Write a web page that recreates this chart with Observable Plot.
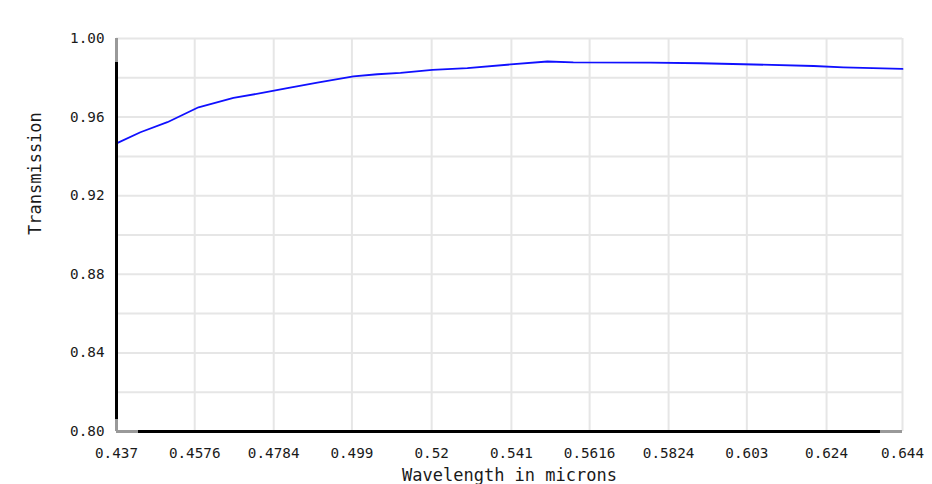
<!DOCTYPE html>
<html>
<head>
<meta charset="utf-8">
<script src="https://cdn.jsdelivr.net/npm/d3@7"></script>
<script src="https://cdn.jsdelivr.net/npm/@observablehq/plot@0.6"></script>
<style>
  html, body { margin: 0; padding: 0; background: #fff; }
  #chart svg { display: block; }
</style>
</head>
<body>
<div id="chart"></div>
<script>
const wavelength = [0.437, 0.4433, 0.4504, 0.4586, 0.4678, 0.4757, 0.4820, 0.4899, 0.4994, 0.5057, 0.5118, 0.5202, 0.5294, 0.5408, 0.5505, 0.5573, 0.5776, 0.5908, 0.6021, 0.6206, 0.6284, 0.644];
const transmission = [0.9466, 0.9523, 0.9574, 0.9650, 0.9698, 0.9724, 0.9747, 0.9775, 0.9807, 0.9818, 0.9825, 0.9840, 0.9849, 0.9868, 0.9883, 0.9878, 0.9877, 0.9874, 0.9869, 0.9860, 0.9853, 0.9845];
const xTicks = [0.437, 0.4576, 0.4784, 0.499, 0.52, 0.541, 0.5616, 0.5824, 0.603, 0.624, 0.644];
const xTickLabels = ["0.437", "0.4576", "0.4784", "0.499", "0.52", "0.541", "0.5616", "0.5824", "0.603", "0.624", "0.644"];
const yTicks = [0.80, 0.84, 0.88, 0.92, 0.96, 1.00];
const yGrid = [0.80, 0.82, 0.84, 0.86, 0.88, 0.90, 0.92, 0.94, 0.96, 0.98, 1.00];
const xLabel = "Wavelength in microns";
const yLabel = "Transmission";

const data = wavelength.map((w, i) => ({w, t: transmission[i]}));
const xDom = [0.437, 0.644];
const yDom = [0.80, 1.00];
const xInset = (xDom[1] - xDom[0]) * 0.028;
const yInset = (yDom[1] - yDom[0]) * 0.061;

const chart = Plot.plot({
  width: 932,
  height: 484,
  marginLeft: 116,
  marginRight: 30,
  marginTop: 38,
  marginBottom: 53,
  style: { fontFamily: "'DejaVu Sans Mono', monospace", fontSize: "14px", color: "#1a1a1a", background: "#fff" },
  x: { domain: xDom },
  y: { domain: yDom },
  marks: [
    Plot.gridX(xTicks, { stroke: "#e6e6e6", strokeOpacity: 1, strokeWidth: 2 }),
    Plot.gridY(yGrid, { stroke: "#e6e6e6", strokeOpacity: 1, strokeWidth: 2 }),
    Plot.line(data, { x: "w", y: "t", stroke: "#1010ff", strokeWidth: 1.8 }),
    // axis lines
    Plot.ruleX([xDom[0]], { y1: yDom[0], y2: yDom[1], stroke: "#999", strokeWidth: 3 }),
    Plot.ruleX([xDom[0]], { y1: yDom[0] + yInset * 0.5, y2: yDom[1] - yInset, stroke: "#000", strokeWidth: 3 }),
    Plot.ruleY([yDom[0]], { x1: xDom[0], x2: xDom[1], stroke: "#999", strokeWidth: 3 }),
    Plot.ruleY([yDom[0]], { x1: xDom[0] + xInset, x2: xDom[1] - xInset, stroke: "#000", strokeWidth: 3 }),
    Plot.axisX(xTicks, { tickSize: 0, tickPadding: 16, tickFormat: (d, i) => xTickLabels[i], label: null, fontSize: 14.3 }),
    Plot.axisY(yTicks, { tickSize: 0, tickPadding: 12, tickFormat: d => d.toFixed(2), label: null, fontSize: 14.3 }),
    Plot.text([xLabel], { frameAnchor: "bottom", dy: 44, lineAnchor: "middle", fontSize: 17, fill: "#1a1a1a" }),
    Plot.text([yLabel], { frameAnchor: "left", dx: -81, rotate: -90, lineAnchor: "middle", fontSize: 17, fill: "#1a1a1a" })
  ]
});
document.getElementById("chart").appendChild(chart);
</script>
</body>
</html>
